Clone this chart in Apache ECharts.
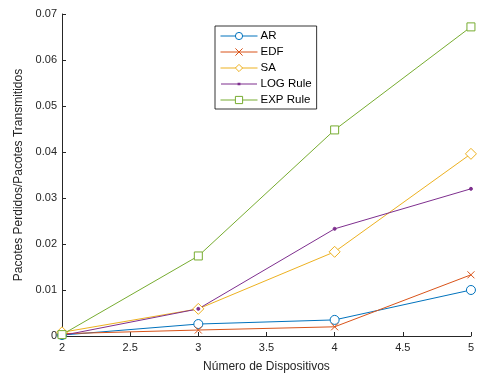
<!DOCTYPE html>
<html>
<head>
<meta charset="utf-8">
<script src="https://cdn.jsdelivr.net/npm/echarts@6/dist/echarts.min.js"></script>
<style>
    html, body { margin: 0; padding: 0; background: #fff; }
    #chart { width: 477px; height: 378px; }
</style>
</head>
<body>
<div id="chart"></div>
<script>
// dados
var dispositivos = [2, 3, 4, 5];
var arData = [0.0002, 0.0026, 0.0035, 0.0100];
var edfData = [0.0005, 0.0013, 0.0020, 0.0133];
var saData = [0.0008, 0.0059, 0.0183, 0.0396];
var logData = [0.0001, 0.0059, 0.0233, 0.0320];
var expData = [0.0003, 0.0174, 0.0448, 0.0672];

var axisColor = "#262626";
var font = "Liberation Sans, Arial, sans-serif";

function pares(ys) {
    return dispositivos.map(function (x, i) { return [x, ys[i]]; });
}

function serie(name, data, color, symbol, size, filled) {
    return {
        name: name,
        type: "line",
        data: pares(data),
        symbol: symbol,
        symbolSize: size,
        color: color,
        lineStyle: { color: color, width: 1 },
        itemStyle: filled
            ? { color: color, borderColor: color, borderWidth: 1 }
            : { color: "#fff", borderColor: color, borderWidth: 1 },
        emphasis: { disabled: true },
        animation: false,
    };
}

// icone da legenda do LOG Rule: linha fina com ponto pequeno
var logIcon = "path://M0,0L0.01,0L0,0.01Z M40,10L39.99,10L40,9.99Z M0,4.4L40,4.4L40,5.6L0,5.6Z M18.4,3.5L21.6,3.5L21.6,6.5L18.4,6.5Z";

var chart = echarts.init(document.getElementById("chart"));
chart.setOption({
    backgroundColor: "#fff",
    textStyle: { fontFamily: font },
    grid: { left: 62, right: 5, top: 14, bottom: 42 },
    legend: {
        orient: "vertical",
        left: 215,
        top: 26,
        padding: [4, 5, 3, 5],
        itemWidth: 37,
        itemHeight: 9,
        itemGap: 4,
        borderColor: "#000",
        borderWidth: 0.8,
        backgroundColor: "#fff",
        lineStyle: { width: 1 },
        itemStyle: { borderWidth: 1 },
        textStyle: { fontSize: 11.5, color: "#000", fontFamily: font, padding: [0, 0, 0, -2], height: 11, lineHeight: 11 },
        data: [
            "AR",
            "EDF",
            "SA",
            { name: "LOG Rule", icon: logIcon, itemStyle: { color: "#7E2F8E", borderWidth: 0 } },
            "EXP Rule",
        ],
    },
    xAxis: {
        type: "value",
        min: 2,
        max: 5,
        interval: 0.5,
        name: "Número de Dispositivos",
        nameLocation: "middle",
        nameGap: 25,
        nameTextStyle: { fontSize: 12, color: axisColor },
        axisLine: { lineStyle: { color: axisColor, width: 1 } },
        axisTick: { inside: true, length: 4, lineStyle: { color: axisColor } },
        axisLabel: { fontSize: 11, color: axisColor, margin: 6 },
        splitLine: { show: false },
    },
    yAxis: {
        type: "value",
        min: 0,
        max: 0.07,
        interval: 0.01,
        name: "Pacotes Perdidos/Pacotes Transmitidos",
        nameLocation: "middle",
        nameGap: 37,
        nameTextStyle: { fontSize: 12, color: axisColor },
        axisLine: { show: true, lineStyle: { color: axisColor, width: 1 } },
        axisTick: { show: true, inside: true, length: 4, lineStyle: { color: axisColor } },
        axisLabel: {
            fontSize: 11,
            color: axisColor,
            margin: 5,
            formatter: function (v) {
                return v === 0 ? "0" : v.toFixed(2);
            },
        },
        splitLine: { show: false },
    },
    series: [
        serie("AR", arData, "#0072BD", "circle", 9, false),
        serie("EDF", edfData, "#D95319", "path://M0,0L10,10M10,0L0,10", 7, false),
        serie("SA", saData, "#EDB120", "diamond", 11, false),
        serie("LOG Rule", logData, "#7E2F8E", "circle", 3, true),
        serie("EXP Rule", expData, "#77AC30", "rect", 8, false),
    ],
});
</script>
</body>
</html>
